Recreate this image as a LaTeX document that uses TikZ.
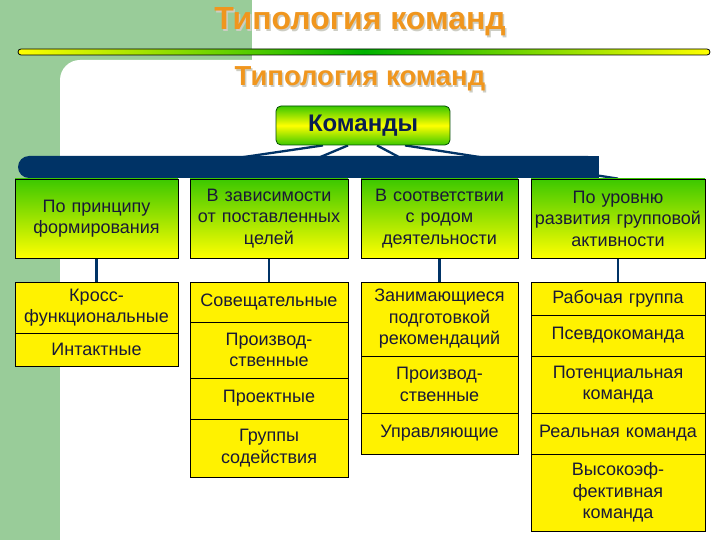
\documentclass[tikz,border=0pt]{standalone}
\usepackage{fontspec}
\setmainfont{Liberation Sans}
\definecolor{bggreen}{RGB}{153,204,153}
\definecolor{navy}{RGB}{0,51,102}
\definecolor{ttl}{RGB}{240,150,30}
\definecolor{ttlshadow}{RGB}{205,205,195}
\definecolor{hgreen}{RGB}{60,200,0}
\definecolor{txt}{RGB}{25,25,55}
\definecolor{cmdtxt}{RGB}{10,30,80}
\pgfdeclarelayer{bg}
\pgfdeclarelayer{lines}
\pgfsetlayers{bg,lines,main}
\begin{document}
\begin{tikzpicture}[x=1pt,y=-1pt,
  title/.style={anchor=base, text=ttl, inner sep=0pt},
  shadowtext/.style={anchor=base, text=ttlshadow, inner sep=0pt},
  conn/.style={draw=navy, line width=2.3pt},
  cmdbox/.style={draw=black!70!green, line width=0.8pt, rounded corners=5pt,
    top color=hgreen, bottom color=hgreen, middle color=yellow,
    minimum width=174pt, minimum height=39pt, inner sep=0pt,
    font=\bfseries\fontsize{24}{26}\selectfont, text=cmdtxt},
  cell/.style={draw=black, line width=0.7pt, fill=yellow, inner sep=0pt,
    align=center, font=\fontsize{18}{21.5}\selectfont, text=txt},
  hdr/.style={cell, top color=hgreen, bottom color=yellow},
  w1/.style={minimum width=163pt, text width=161pt},
  w2/.style={minimum width=158pt, text width=156pt},
  w3/.style={minimum width=157pt, text width=155pt},
  w4/.style={minimum width=174pt, text width=172pt},
]
\useasboundingbox (0,0) rectangle (720,540);
\begin{pgfonlayer}{bg}
  \fill[bggreen] (0,0) rectangle (720,540);
  \fill[white, rounded corners=20pt] (60,60) rectangle (760,580);
  \fill[white] (252,0) rectangle (720,61);
  \path[draw=black, line width=0.8pt, left color=yellow, right color=yellow,
    middle color=green!70!black, rounded corners=3pt] (18,49) rectangle (710,55);
\end{pgfonlayer}

% titles
\node[shadowtext, font=\bfseries\fontsize{32}{35}\selectfont] at (361.5,31.5) {Типология команд};
\node[title, font=\bfseries\fontsize{32}{35}\selectfont] (t1) at (360,30) {Типология команд};
\node[shadowtext, font=\bfseries\fontsize{27.5}{30}\selectfont] at (361.5,87.5) {Типология команд};
\node[title, font=\bfseries\fontsize{27.5}{30}\selectfont] (t2) at (360,86) {Типология команд};

\node[cmdbox] (cmd) at (363,125.5) {Команды};

% headers
\node[hdr, w1, minimum height=79pt] (h1) at (96.5,218.5) {По принципу\\формирования};
\node[hdr, w2, minimum height=79pt] (h2) at (269,218.5) {В зависимости\\от поставленных\\целей};
\node[hdr, w3, minimum height=79pt] (h3) at (439.5,218.5) {В соответствии\\с родом\\деятельности};
\node[hdr, w4, minimum height=79pt] (h4) at (618,218.5) {По уровню\\развития групповой\\активности};

% column 1
\node[cell, w1, minimum height=51pt] (c1a) at (96.5,307.5) {Кросс-\\функциональные};
\node[cell, w1, minimum height=33pt] (c1b) at (96.5,349.5) {Интактные};
% column 2
\node[cell, w2, minimum height=40pt] (c2a) at (269,302) {Совещательные};
\node[cell, w2, minimum height=56pt] (c2b) at (269,350) {Производ-\\ственные};
\node[cell, w2, minimum height=41pt] (c2c) at (269,398.5) {Проектные};
\node[cell, w2, minimum height=58pt] (c2d) at (269,448) {Группы\\содействия};
% column 3
\node[cell, w3, minimum height=74pt] (c3a) at (439.5,319) {Занимающиеся\\подготовкой\\рекомендаций};
\node[cell, w3, minimum height=57pt] (c3b) at (439.5,384.5) {Производ-\\ственные};
\node[cell, w3, minimum height=41pt] (c3c) at (439.5,433.5) {Управляющие};
% column 4
\node[cell, w4, minimum height=33pt] (c4a) at (618,298.5) {Рабочая группа};
\node[cell, w4, minimum height=41pt] (c4b) at (618,335.5) {Псевдокоманда};
\node[cell, w4, minimum height=57pt] (c4c) at (618,384.5) {Потенциальная\\команда};
\node[cell, w4, minimum height=41pt] (c4d) at (618,433.5) {Реальная команда};
\node[cell, w4, minimum height=77pt] (c4e) at (618,492.5) {Высокоэф-\\фективная\\команда};

\begin{pgfonlayer}{lines}
  \draw[conn] ([xshift=-40pt]cmd.south) -- (h1.north);
  \draw[conn] ([xshift=-15pt]cmd.south) -- (h2.north);
  \draw[conn] ([xshift=14pt]cmd.south) -- (h3.north);
  \draw[conn] ([xshift=42pt]cmd.south) -- (h4.north);
  \fill[navy, rounded corners=11pt] (18,156) rectangle (599,178);
  \fill[navy] (300,156) rectangle (599,178);
  \draw[conn] (h1.south) -- (c1a.north);
  \draw[conn] (h2.south) -- (c2a.north);
  \draw[conn] (h3.south) -- (c3a.north);
  \draw[conn] (h4.south) -- (c4a.north);
\end{pgfonlayer}
\end{tikzpicture}
\end{document}
